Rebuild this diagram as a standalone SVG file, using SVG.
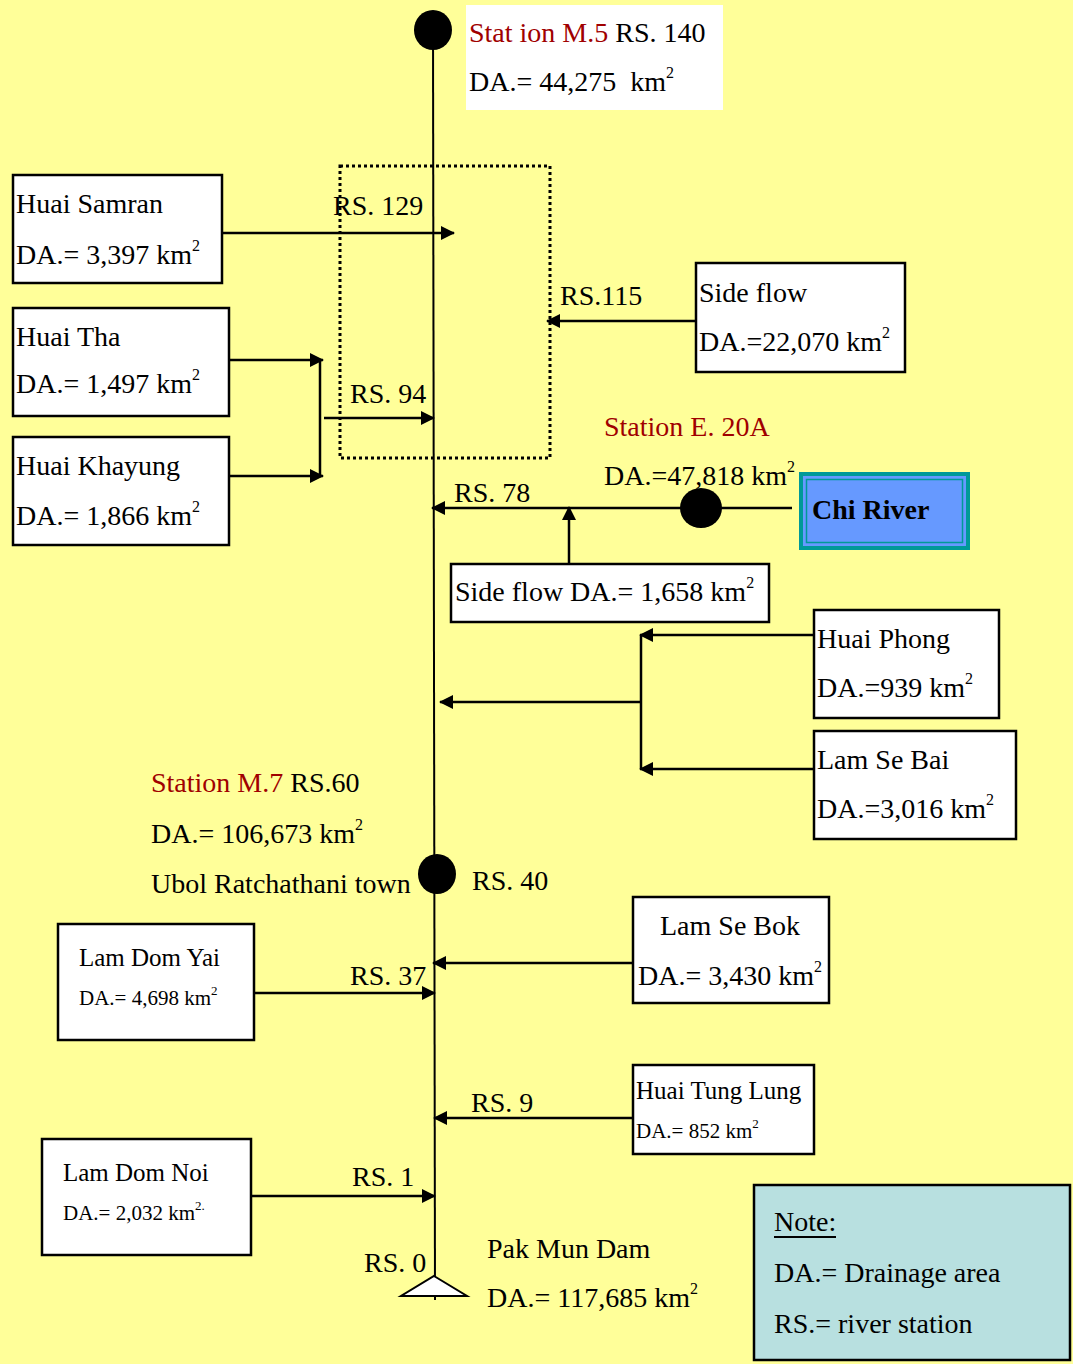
<svg xmlns="http://www.w3.org/2000/svg" width="1073" height="1364" viewBox="0 0 1073 1364" font-family="'Liberation Serif', 'DejaVu Serif', serif">
<defs>
<marker id="ah" viewBox="0 0 14 14" refX="13" refY="7" markerWidth="14" markerHeight="14" markerUnits="userSpaceOnUse" orient="auto">
<path d="M0,0 L14,7 L0,14 Z" fill="#000"/>
</marker>
<style>
text{font-family:'Liberation Serif','DejaVu Serif',serif;font-size:28px;fill:#000}
.sm{font-size:25px}
.xs{font-size:21px}
.red{fill:#A00000}
.box{fill:#fff;stroke:#000;stroke-width:2.5}
.ar{stroke:#000;stroke-width:2.5;fill:none;marker-end:url(#ah)}
.ln{stroke:#000;stroke-width:2.5;fill:none}
.sup{font-size:16px}
.sups{font-size:13px}
</style>
</defs>
<rect x="0" y="0" width="1073" height="1364" fill="#FFFF99"/>

<g id="connectors">
<line x1="433" y1="30" x2="435" y2="1300" stroke="#000" stroke-width="2"/>
<rect x="340" y="166" width="210" height="292" fill="none" stroke="#000" stroke-width="3" stroke-dasharray="3,3"/>
<line class="ar" x1="222" y1="233" x2="454" y2="233"/>
<line class="ar" x1="696" y1="321" x2="547" y2="321"/>
<line class="ar" x1="229" y1="360" x2="323" y2="360"/>
<line class="ar" x1="229" y1="476" x2="323" y2="476"/>
<line class="ln" x1="320" y1="360" x2="320" y2="476"/>
<line class="ar" x1="324" y1="418" x2="434" y2="418"/>
<line class="ar" x1="792" y1="508" x2="432" y2="508"/>
<line class="ar" x1="569" y1="564" x2="569" y2="507"/>
<line class="ar" x1="814" y1="635" x2="640" y2="635"/>
<line class="ar" x1="814" y1="769" x2="640" y2="769"/>
<line class="ln" x1="641" y1="635" x2="641" y2="769"/>
<line class="ar" x1="641" y1="702" x2="440" y2="702"/>
<line class="ar" x1="633" y1="963" x2="433" y2="963"/>
<line class="ar" x1="254" y1="993" x2="435" y2="993"/>
<line class="ar" x1="633" y1="1118" x2="434" y2="1118"/>
<line class="ar" x1="251" y1="1196" x2="435" y2="1196"/>
<text x="333" y="215">RS. 129</text>
<text x="560" y="305">RS.115</text>
<text x="350" y="403">RS. 94</text>
<text x="454" y="502">RS. 78</text>
<text x="472" y="890">RS. 40</text>
<text x="350" y="985">RS. 37</text>
<text x="471" y="1112">RS. 9</text>
<text x="352" y="1186">RS. 1</text>
<text x="364" y="1272">RS. 0</text>
</g>

<g id="station-m5">
<rect x="466" y="5" width="257" height="105" fill="#fff"/>
<ellipse cx="433" cy="30" rx="19" ry="20" fill="#000"/>
<text x="469" y="42"><tspan class="red">Stat ion M.5</tspan> RS. 140</text>
<text x="469" y="91">DA.= 44,275 &#160;km<tspan class="sup" dy="-13">2</tspan></text>
</g>

<g id="huai-samran">
<rect class="box" x="13" y="175" width="209" height="108"/>
<text x="16" y="213">Huai Samran</text>
<text x="16" y="264">DA.= 3,397 km<tspan class="sup" dy="-13">2</tspan></text>
</g>

<g id="side-flow-22070">
<rect class="box" x="696" y="263" width="209" height="109"/>
<text x="699" y="302">Side flow</text>
<text x="699" y="351">DA.=22,070 km<tspan class="sup" dy="-13">2</tspan></text>
</g>

<g id="huai-tha">
<rect class="box" x="13" y="308" width="216" height="108"/>
<text x="16" y="346">Huai Tha</text>
<text x="16" y="393">DA.= 1,497 km<tspan class="sup" dy="-13">2</tspan></text>
</g>

<g id="huai-khayung">
<rect class="box" x="13" y="437" width="216" height="108"/>
<text x="16" y="475">Huai Khayung</text>
<text x="16" y="525">DA.= 1,866 km<tspan class="sup" dy="-13">2</tspan></text>
</g>

<g id="station-e20a">
<text x="604" y="436" class="red">Station E. 20A</text>
<text x="604" y="485">DA.=47,818 km<tspan class="sup" dy="-13">2</tspan></text>
<ellipse cx="701" cy="508" rx="21" ry="20" fill="#000"/>
</g>

<g id="chi-river">
<rect x="799" y="472" width="171" height="78" fill="#009999"/>
<rect x="803" y="476" width="163" height="70" fill="#6699FF"/>
<rect x="806.5" y="479.5" width="156" height="63" fill="none" stroke="#009999" stroke-width="1.5"/>
<text x="812" y="519" font-weight="bold">Chi River</text>
</g>

<g id="side-flow-1658">
<rect class="box" x="451" y="564" width="318" height="58"/>
<text x="455" y="601">Side flow DA.= 1,658 km<tspan class="sup" dy="-13">2</tspan></text>
</g>

<g id="huai-phong">
<rect class="box" x="814" y="610" width="185" height="108"/>
<text x="817" y="648">Huai Phong</text>
<text x="817" y="697">DA.=939 km<tspan class="sup" dy="-13">2</tspan></text>
</g>

<g id="lam-se-bai">
<rect class="box" x="814" y="731" width="202" height="108"/>
<text x="817" y="769">Lam Se Bai</text>
<text x="817" y="818">DA.=3,016 km<tspan class="sup" dy="-13">2</tspan></text>
</g>

<g id="station-m7">
<text x="151" y="792"><tspan class="red">Station M.7</tspan> RS.60</text>
<text x="151" y="843">DA.= 106,673 km<tspan class="sup" dy="-13">2</tspan></text>
<text x="151" y="893">Ubol Ratchathani town</text>
<ellipse cx="437" cy="874" rx="19" ry="20" fill="#000"/>
</g>

<g id="lam-se-bok">
<rect class="box" x="633" y="897" width="196" height="106"/>
<text x="660" y="935">Lam Se Bok</text>
<text x="638" y="985">DA.= 3,430 km<tspan class="sup" dy="-13">2</tspan></text>
</g>

<g id="lam-dom-yai">
<rect class="box" x="58" y="924" width="196" height="116"/>
<text x="79" y="966" class="sm">Lam Dom Yai</text>
<text x="79" y="1005" class="xs">DA.= 4,698 km<tspan class="sups" dy="-10">2</tspan></text>
</g>

<g id="huai-tung-lung">
<rect class="box" x="633" y="1065" width="181" height="89"/>
<text x="636" y="1099" class="sm">Huai Tung Lung</text>
<text x="636" y="1138" class="xs">DA.= 852 km<tspan class="sups" dy="-10">2</tspan></text>
</g>

<g id="lam-dom-noi">
<rect class="box" x="42" y="1139" width="209" height="116"/>
<text x="63" y="1181" class="sm">Lam Dom Noi</text>
<text x="63" y="1220" class="xs">DA.= 2,032 km<tspan class="sups" dy="-10">2.</tspan></text>
</g>

<g id="pak-mun-dam">
<path d="M434,1276 L467,1296 L401,1296 Z" fill="#fff" stroke="#000" stroke-width="2"/>
<text x="487" y="1258">Pak Mun Dam</text>
<text x="487" y="1307">DA.= 117,685 km<tspan class="sup" dy="-13">2</tspan></text>
</g>

<g id="note">
<rect x="754" y="1185" width="316" height="175" fill="#B8E0E0" stroke="#000" stroke-width="2.5"/>
<text x="774" y="1231">Note:</text>
<line x1="774" y1="1237" x2="836" y2="1237" stroke="#000" stroke-width="2"/>
<text x="774" y="1282">DA.= Drainage area</text>
<text x="774" y="1333">RS.= river station</text>
</g>
</svg>
